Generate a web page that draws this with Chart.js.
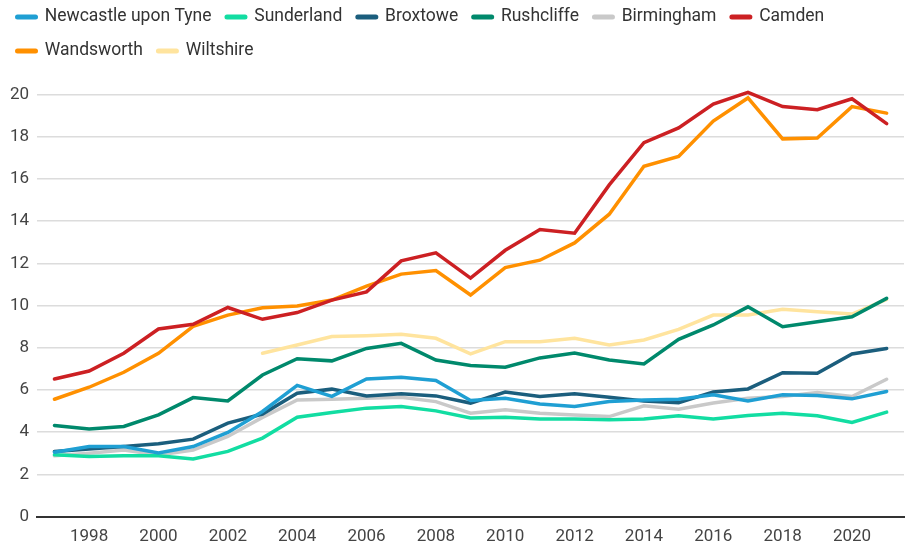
<!DOCTYPE html>
<html>
<head>
<meta charset="utf-8">
<script src="https://cdn.jsdelivr.net/npm/chart.js@4.4.1/dist/chart.umd.min.js"></script>
<style>
  html, body { margin: 0; padding: 0; background: #fff; }
  #wrap { width: 908px; height: 549px; position: relative; }
</style>
</head>
<body>
<div id="wrap"><canvas id="grafica"></canvas></div>
<script>
// Datos
const years = [1997, 1998, 1999, 2000, 2001, 2002, 2003, 2004, 2005, 2006, 2007, 2008, 2009,
               2010, 2011, 2012, 2013, 2014, 2015, 2016, 2017, 2018, 2019, 2020, 2021];

const newcastle  = [3.05, 3.32, 3.32, 3.01, 3.32, 3.99, 4.98, 6.22, 5.70, 6.52, 6.60, 6.45, 5.50,
                    5.61, 5.34, 5.22, 5.45, 5.53, 5.56, 5.77, 5.48, 5.77, 5.74, 5.58, 5.93];
const sunderland = [2.93, 2.85, 2.88, 2.88, 2.73, 3.09, 3.72, 4.71, 4.93, 5.14, 5.22, 5.01, 4.67,
                    4.71, 4.63, 4.63, 4.59, 4.62, 4.78, 4.63, 4.79, 4.90, 4.78, 4.46, 4.95];
const broxtowe   = [3.09, 3.20, 3.32, 3.45, 3.67, 4.43, 4.86, 5.85, 6.04, 5.72, 5.82, 5.72, 5.38,
                    5.90, 5.69, 5.82, 5.66, 5.48, 5.40, 5.91, 6.05, 6.82, 6.79, 7.71, 7.97];
const rushcliffe = [4.32, 4.15, 4.27, 4.82, 5.64, 5.48, 6.71, 7.48, 7.38, 7.97, 8.21, 7.42, 7.16,
                    7.08, 7.52, 7.75, 7.42, 7.23, 8.40, 9.08, 9.94, 9.00, 9.23, 9.47, 10.34];
const birmingham = [2.88, 3.00, 3.15, 2.92, 3.15, 3.80, 4.70, 5.53, 5.56, 5.61, 5.66, 5.45, 4.90,
                    5.06, 4.90, 4.82, 4.74, 5.25, 5.09, 5.38, 5.61, 5.69, 5.88, 5.69, 6.51];
const camden     = [6.52, 6.90, 7.74, 8.89, 9.11, 9.91, 9.35, 9.67, 10.26, 10.65, 12.12, 12.50, 11.30,
                    12.62, 13.60, 13.43, 15.72, 17.72, 18.42, 19.55, 20.10, 19.43, 19.28, 19.80, 18.62];
const wandsworth = [5.56, 6.13, 6.84, 7.74, 9.02, 9.55, 9.90, 9.98, 10.26, 10.92, 11.49, 11.66, 10.50,
                    11.80, 12.15, 12.97, 14.33, 16.60, 17.07, 18.74, 19.84, 17.90, 17.94, 19.43, 19.12];
const wiltshire  = [null, null, null, null, null, null, 7.74, 8.13, 8.53, 8.57, 8.64, 8.45, 7.71,
                    8.29, 8.29, 8.45, 8.13, 8.37, 8.87, 9.55, 9.55, 9.82, 9.71, 9.60, 10.29];

const seriesNames = ['Newcastle upon Tyne', 'Sunderland', 'Broxtowe', 'Rushcliffe',
                     'Birmingham', 'Camden', 'Wandsworth', 'Wiltshire'];
const seriesData = [newcastle, sunderland, broxtowe, rushcliffe, birmingham, camden, wandsworth, wiltshire];
const colores = ['#1f9fd3', '#12dda2', '#1b5e7d', '#00896c', '#c9c9c9', '#cc2023', '#ff9000', '#ffe49e'];

const yTicks = [0, 2, 4, 6, 8, 10, 12, 14, 16, 18, 20];

const ctx = document.getElementById('grafica').getContext('2d');

const datasets = seriesNames.map((name, i) => ({
    label: name,
    data: seriesData[i],
    borderColor: colores[i],
    backgroundColor: colores[i],
    borderWidth: 3.5,
    pointRadius: 0,
    pointHoverRadius: 0,
    tension: 0,
    spanGaps: false,
    borderCapStyle: 'round',
    borderJoinStyle: 'miter'
}));

// espacio extra debajo de la leyenda
const legendSpacer = {
    id: 'legendSpacer',
    beforeInit(chart) {
        const origFit = chart.legend.fit;
        chart.legend.fit = function () {
            origFit.bind(chart.legend)();
            this.height += 12;
        };
    }
};

// marcadores de la leyenda en forma de píldora
const legendPills = {
    id: 'legendPills',
    afterDraw(chart) {
        const lg = chart.legend;
        if (!lg || !lg.legendHitBoxes) return;
        const c = chart.ctx;
        c.save();
        lg.legendHitBoxes.forEach((box, i) => {
            const item = lg.legendItems[i];
            const color = chart.data.datasets[item.datasetIndex].borderColor;
            const w = 23, h = 5;
            const x = box.left + 1;
            const y = box.top + box.height / 2 - h / 2;
            c.fillStyle = color;
            c.beginPath();
            c.roundRect(x, y, w, h, h / 2);
            c.fill();
        });
        c.restore();
    }
};

new Chart(ctx, {
    type: 'line',
    data: { labels: years, datasets: datasets },
    plugins: [legendSpacer, legendPills],
    options: {
        responsive: true,
        maintainAspectRatio: false,
        animation: false,
        layout: { padding: { left: 2, right: 4, top: -6, bottom: -8 } },
        plugins: {
            tooltip: { enabled: false },
            legend: {
                position: 'top',
                align: 'start',
                labels: {
                    boxWidth: 22,
                    boxHeight: 22,
                    padding: 12,
                    color: '#333',
                    font: { family: 'Roboto', size: 17.5 },
                    generateLabels(chart) {
                        const items = Chart.defaults.plugins.legend.labels.generateLabels(chart);
                        items.forEach(it => {
                            it.fillStyle = 'rgba(0,0,0,0)';
                            it.strokeStyle = 'rgba(0,0,0,0)';
                            it.lineWidth = 0;
                        });
                        return items;
                    }
                }
            }
        },
        scales: {
            x: {
                offset: true,
                grid: { display: false, drawTicks: false },
                border: { display: true, color: '#333', width: 2 },
                ticks: {
                    autoSkip: false,
                    maxRotation: 0,
                    padding: 10,
                    color: '#444',
                    font: { family: 'Roboto', size: 17 },
                    callback: function (val, idx) {
                        const y = years[idx];
                        return y % 2 === 0 ? String(y) : '';
                    }
                }
            },
            y: {
                min: 0,
                max: 20.5,
                afterBuildTicks: (axis) => { axis.ticks = yTicks.map(v => ({ value: v })); },
                grid: { color: '#dcdcdc', lineWidth: 1.5, drawTicks: false },
                border: { display: false },
                ticks: {
                    padding: 8,
                    color: '#444',
                    font: { family: 'Roboto', size: 17 }
                }
            }
        }
    }
});
</script>
</body>
</html>
